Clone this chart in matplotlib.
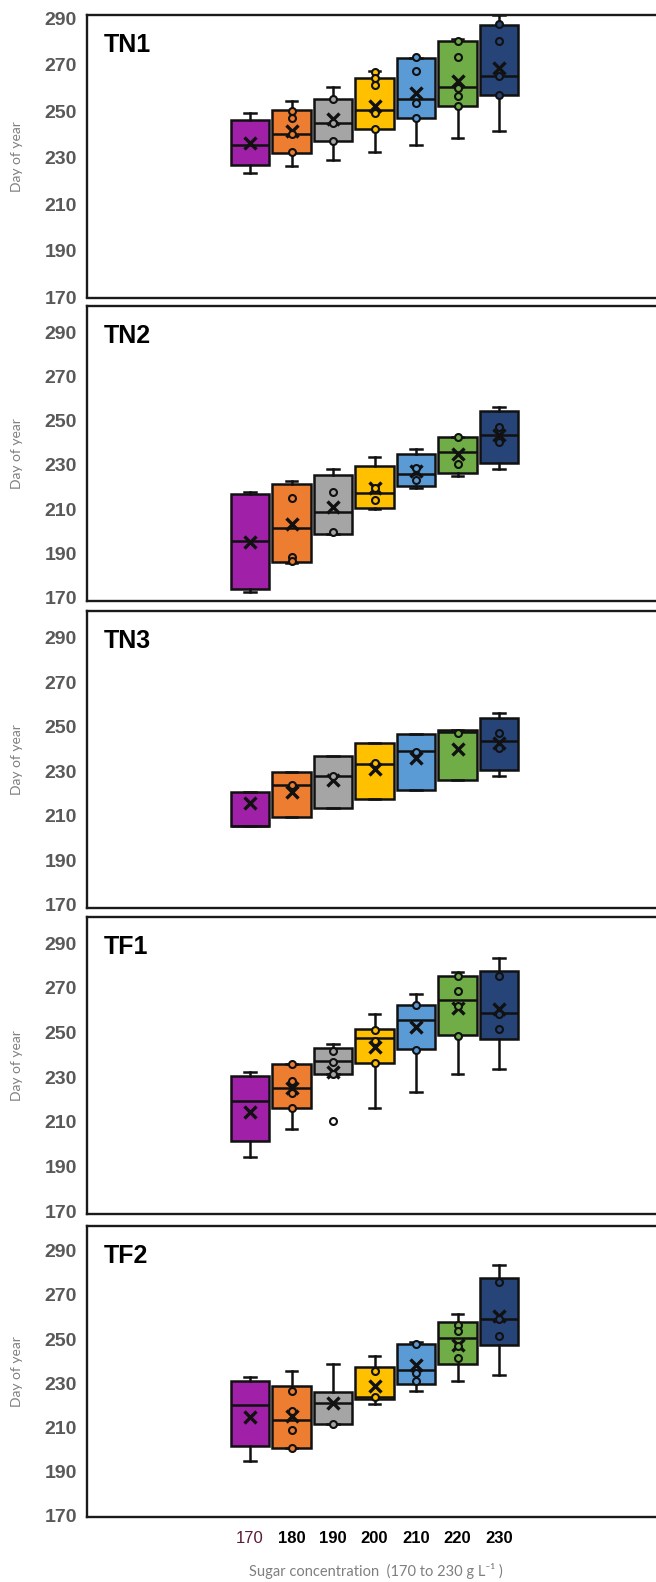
import matplotlib
matplotlib.use("Agg")
import matplotlib.pyplot as plt

# --------------------------------------------
# Data
# --------------------------------------------

CONCENTRATIONS = ["170", "180", "190", "200", "210", "220", "230"]
BOX_COLORS = ["#A020A8", "#ED7D31", "#A5A5A5", "#FFC000", "#5B9BD5", "#70AD47", "#264478"]
Y_TICKS = [170, 190, 210, 230, 250, 270, 290]
PANEL_NAMES = ["TN1", "TN2", "TN3", "TF1", "TF2"]

# TN1
tn1_q1 = [227.0, 232.1, 237.1, 242.3, 247.2, 252.2, 257.1]
tn1_med = [235.5, 240.3, 244.9, 250.4, 255.3, 260.5, 265.4]
tn1_q3 = [246.3, 250.4, 255.3, 264.2, 273.1, 280.2, 287.3]
tn1_lo = [223.3, 226.3, 229.3, 232.4, 235.4, 238.4, 241.4]
tn1_hi = [249.4, 254.6, 260.5, 267.2, 273.1, 281.2, 291.5]
tn1_mean = [236.4, 241.7, 246.8, 252.5, 257.9, 263.0, 268.8]
tn1_points = [[], [250.0, 247.2, 240.3, 232.4], [255.1, 245.0, 237.3],
              [267.0, 264.4, 261.2, 249.2, 242.4], [273.3, 267.2, 253.4, 247.3],
              [280.3, 273.3, 260.0, 256.4, 252.2], [287.4, 280.2, 265.4, 257.1]]
tn1_out = [[], [], [], [], [], [], []]

# TN2
tn2_q1 = [173.9, 186.1, 198.8, 210.4, 220.6, 226.2, 230.7]
tn2_med = [195.8, 201.5, 208.7, 217.2, 225.8, 236.0, 243.7]
tn2_q3 = [216.9, 221.3, 225.5, 229.7, 234.8, 242.5, 254.4]
tn2_lo = [172.4, 185.5, 198.8, 209.9, 219.7, 225.2, 228.2]
tn2_hi = [217.8, 222.9, 228.2, 233.5, 237.2, 242.5, 256.4]
tn2_mean = [195.3, 203.2, 211.2, 219.7, 227.4, 235.0, 243.7]
tn2_points = [[], [214.9, 188.5, 186.5], [217.9, 199.7], [219.4, 214.0],
              [228.8, 223.2], [242.5, 230.3], [247.3, 241.5, 240.6]]
tn2_out = [[], [], [], [], [], [], []]

# TN3
tn3_q1 = [205.4, 209.6, 213.7, 217.6, 221.7, 225.9, 230.7]
tn3_med = [205.4, 224.0, 227.7, 233.2, 239.2, 247.6, 243.6]
tn3_q3 = [220.8, 229.7, 236.8, 242.8, 246.7, 248.5, 254.0]
tn3_lo = [205.4, 209.6, 213.7, 217.6, 221.7, 225.9, 228.0]
tn3_hi = [220.8, 229.7, 236.8, 242.8, 246.7, 248.5, 256.1]
tn3_mean = [215.7, 220.6, 225.9, 231.1, 236.0, 239.8, 242.5]
tn3_points = [[], [224.0], [228.0], [233.5], [238.7], [247.3], [247.2, 240.6]]
tn3_out = [[], [], [], [], [], [], []]

# TF1
tf1_q1 = [201.6, 216.2, 231.3, 236.4, 242.6, 248.8, 247.2]
tf1_med = [219.5, 225.3, 237.4, 247.6, 255.5, 264.7, 258.7]
tf1_q3 = [230.7, 235.8, 242.9, 251.8, 262.4, 275.5, 277.4]
tf1_lo = [194.4, 206.7, 231.3, 216.4, 223.5, 231.3, 233.7]
tf1_hi = [232.5, 236.0, 244.7, 258.1, 267.3, 277.3, 283.2]
tf1_mean = [214.4, 225.3, 232.5, 243.6, 252.7, 261.0, 260.7]
tf1_points = [[], [235.8, 228.5, 223.0, 216.2], [241.6, 237.0, 231.3],
              [251.2, 246.2, 236.4], [262.4, 242.4],
              [275.5, 268.5, 262.1, 248.5], [275.5, 258.1, 251.5]]
tf1_out = [[], [], [210.6], [], [], [], []]

# TF2
tf2_q1 = [201.6, 200.5, 211.4, 222.6, 229.4, 238.9, 247.4]
tf2_med = [219.9, 213.2, 221.1, 223.8, 236.0, 250.3, 259.3]
tf2_q3 = [230.8, 228.6, 226.1, 237.4, 247.6, 257.8, 277.5]
tf2_lo = [194.5, 200.5, 211.4, 220.7, 226.4, 230.8, 233.6]
tf2_hi = [232.7, 235.3, 238.6, 242.5, 248.5, 261.3, 283.4]
tf2_mean = [214.7, 215.1, 221.1, 228.6, 238.1, 247.4, 260.5]
tf2_points = [[], [226.4, 217.5, 208.6, 200.5], [211.4], [235.4, 223.8],
              [247.6, 234.7, 230.8], [256.5, 253.6, 247.0, 241.4],
              [275.7, 259.3, 251.5]]
tf2_out = [[], [], [], [], [], [], []]

PANELS = [
    (tn1_q1, tn1_med, tn1_q3, tn1_lo, tn1_hi, tn1_mean, tn1_points, tn1_out),
    (tn2_q1, tn2_med, tn2_q3, tn2_lo, tn2_hi, tn2_mean, tn2_points, tn2_out),
    (tn3_q1, tn3_med, tn3_q3, tn3_lo, tn3_hi, tn3_mean, tn3_points, tn3_out),
    (tf1_q1, tf1_med, tf1_q3, tf1_lo, tf1_hi, tf1_mean, tf1_points, tf1_out),
    (tf2_q1, tf2_med, tf2_q3, tf2_lo, tf2_hi, tf2_mean, tf2_points, tf2_out),
]

# --------------------------------------------
# Layout (pixels of a 656x1582 figure)
# --------------------------------------------
FIG_W, FIG_H = 656, 1582
AX_LEFT = 86.7
AX_RIGHT = 656
PANEL_TOPS = [15, 305.7, 610.7, 917.3, 1225.7]
PANEL_BOTTOMS = [297.5, 601, 908.3, 1213.5, 1517]
Y_LIMS = [(170, 291.4), (168.5, 302), (168.5, 302), (169, 301.6), (169.3, 301.4)]
CENTER_FIRST = 250.0   # pixel x of the 170 box
SPACING = 41.5         # pixels between boxes

TICK_FONT = ["Liberation Sans", "DejaVu Sans"]
TEXT_FONT = ["Lato", "DejaVu Sans"]
EDGE = "#111111"


def draw_panel(ax, name, data, ylim):
    q1, med, q3, lo, hi, mean, points, out = data
    stats = []
    for i in range(len(CONCENTRATIONS)):
        stats.append(dict(q1=q1[i], med=med[i], q3=q3[i], whislo=lo[i],
                          whishi=hi[i], mean=mean[i], fliers=out[i]))
    pos = list(range(len(CONCENTRATIONS)))
    bp = ax.bxp(stats, positions=pos, widths=0.92, patch_artist=True,
                showmeans=True, showfliers=True,
                boxprops=dict(edgecolor=EDGE, linewidth=1.8),
                medianprops=dict(color=EDGE, linewidth=1.8),
                whiskerprops=dict(color=EDGE, linewidth=1.8),
                capprops=dict(color=EDGE, linewidth=1.8),
                capwidths=0.28,
                meanprops=dict(marker="x", markeredgecolor=EDGE,
                               markersize=9, markeredgewidth=2.4),
                flierprops=dict(marker="o", markerfacecolor="white",
                                markeredgecolor=EDGE, markersize=5,
                                markeredgewidth=1.5))
    for patch, color in zip(bp["boxes"], BOX_COLORS):
        patch.set_facecolor(color)
    for i, pts in enumerate(points):
        if pts:
            ax.plot([i] * len(pts), pts, "o", markersize=5,
                    markerfacecolor=BOX_COLORS[i], markeredgecolor=EDGE,
                    markeredgewidth=1.5, zorder=4)

    left = -(CENTER_FIRST - AX_LEFT) / SPACING
    right = (AX_RIGHT - CENTER_FIRST) / SPACING
    ax.set_xlim(left, right)
    ax.set_ylim(*ylim)
    ax.set_yticks(Y_TICKS)
    ax.set_yticklabels([str(t) for t in Y_TICKS], fontsize=14,
                       fontweight="bold", color="#595959", family=TICK_FONT)
    ax.tick_params(axis="y", length=0, pad=7)
    ax.set_xticks([])

    for side in ["left", "top", "bottom"]:
        ax.spines[side].set_linewidth(1.7)
        ax.spines[side].set_color("#1a1a1a")
    ax.spines["right"].set_visible(False)

    ax.set_ylabel("Day of year", fontsize=10, color="#808080", family=TEXT_FONT)
    ax.yaxis.set_label_coords(-(AX_LEFT - 23) / (AX_RIGHT - AX_LEFT), 0.5)

    ax.annotate(name, xy=(0, 1), xycoords="axes fraction",
                xytext=(17, -30), textcoords="offset pixels",
                ha="left", va="center", fontsize=18, fontweight="bold",
                family=TICK_FONT, color="black")


def main():
    fig = plt.figure(figsize=(FIG_W / 100, FIG_H / 100), dpi=100)
    axes = []
    for k, name in enumerate(PANEL_NAMES):
        top, bottom = PANEL_TOPS[k], PANEL_BOTTOMS[k]
        rect = [AX_LEFT / FIG_W, 1 - bottom / FIG_H,
                (AX_RIGHT - AX_LEFT) / FIG_W, (bottom - top) / FIG_H]
        ax = fig.add_axes(rect)
        draw_panel(ax, name, PANELS[k], Y_LIMS[k])
        axes.append(ax)

    # x tick labels only under the last panel
    last = axes[-1]
    last.set_xticks(range(len(CONCENTRATIONS)))
    labels = last.set_xticklabels(CONCENTRATIONS, fontsize=12, fontweight="bold",
                                  color="black", family=TICK_FONT)
    labels[0].set_color("#5c1a3b")
    labels[0].set_fontweight("normal")
    last.tick_params(axis="x", length=0, pad=10)

    fig.text(376 / FIG_W, 1 - 1571 / FIG_H,
             "Sugar concentration  (170 to 230 g L⁻¹ )",
             ha="center", va="center", fontsize=10.5, color="#7f7f7f",
             family=TEXT_FONT)

    fig.savefig("out.png", dpi=100)
    plt.close(fig)


if __name__ == "__main__":
    main()
